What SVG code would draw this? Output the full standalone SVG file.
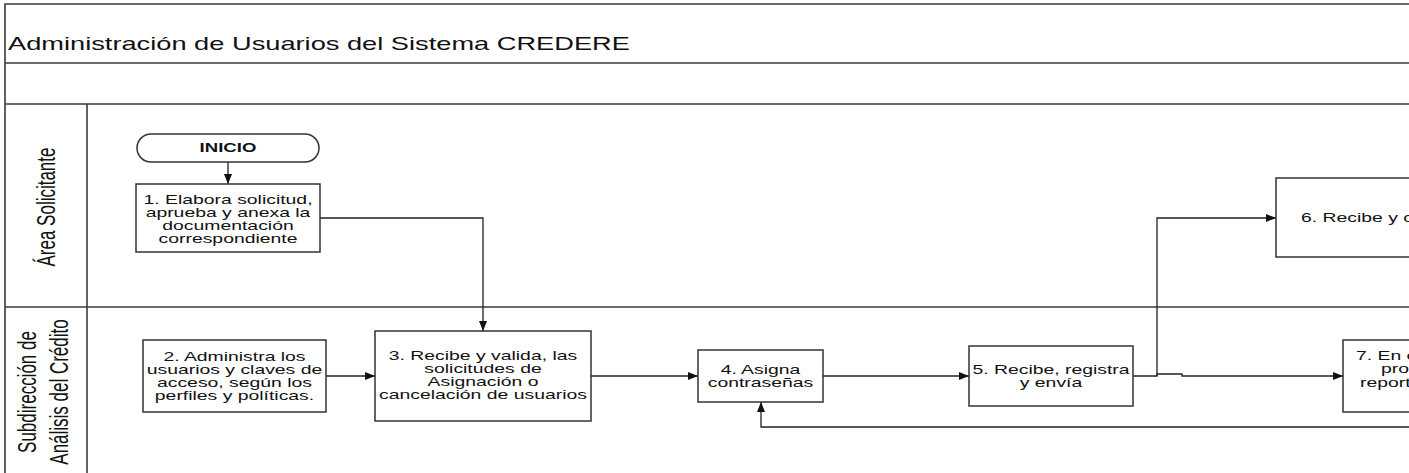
<svg xmlns="http://www.w3.org/2000/svg" width="1409" height="473" viewBox="0 0 1409 473">
<style>
.frame{fill:none;stroke:#3a3a3a;stroke-width:1.6}
.box{fill:#fff;stroke:#333;stroke-width:1.5}
.conn{fill:none;stroke:#222;stroke-width:1.3}
.t{font-family:"Liberation Sans",Arial,sans-serif;font-size:12.5px;fill:#111}
.tb{font-family:"Liberation Sans",Arial,sans-serif;font-size:12px;font-weight:bold;fill:#111}
.title{font-family:"Liberation Sans",Arial,sans-serif;font-size:17.8px;fill:#111}
.lane{font-family:"Liberation Sans",Arial,sans-serif;font-size:17px;fill:#111}
</style>
<defs>
<marker id="arr" viewBox="0 0 10 8" refX="10" refY="4" markerWidth="10" markerHeight="8" markerUnits="userSpaceOnUse" orient="auto">
<path d="M0,0 L10,4 L0,8 Z" fill="#111"/>
</marker>
</defs>
<rect width="1409" height="473" fill="#fff"/>
<g id="frame">
<path class="frame" d="M1409,4 H5 V473"/>
<line class="frame" x1="5" y1="63" x2="1409" y2="63"/>
<line class="frame" x1="5" y1="104" x2="1409" y2="104"/>
<line class="frame" x1="5" y1="307" x2="1409" y2="307"/>
<line class="frame" x1="87" y1="104" x2="87" y2="473"/>
<text class="title" transform="matrix(1.53 0 0 1 8 50)" x="0" y="0">Administración de Usuarios del Sistema CREDERE</text>
</g>
<g id="lane-area-solicitante">
<text class="lane" text-anchor="middle" transform="matrix(0 -1 1.55 0 55 207)" x="0" y="0">Área Solicitante</text>
</g>
<g id="lane-subdireccion">
<text class="lane" text-anchor="middle" transform="matrix(0 -1 1.55 0 36 392)" x="0" y="0">Subdirección de</text>
<text class="lane" text-anchor="middle" transform="matrix(0 -1 1.55 0 68 392)" x="0" y="0">Análisis del Crédito</text>
</g>
<g id="connectors">
<line class="conn" x1="228" y1="162" x2="228" y2="184" marker-end="url(#arr)"/>
<path class="conn" d="M320,218 H483 V331" marker-end="url(#arr)"/>
<line class="conn" x1="326" y1="376" x2="375" y2="376" marker-end="url(#arr)"/>
<line class="conn" x1="591" y1="376" x2="698" y2="376" marker-end="url(#arr)"/>
<line class="conn" x1="823" y1="376" x2="969" y2="376" marker-end="url(#arr)"/>
<path class="conn" d="M1133,376 H1157 V218 H1276" marker-end="url(#arr)"/>
<path class="conn" d="M1157,376 V374 H1182 V376 H1343" marker-end="url(#arr)"/>
<path class="conn" d="M1412,427 H761 V402" marker-end="url(#arr)"/>
</g>
<g id="inicio">
<rect class="box" x="137" y="134" width="182" height="28" rx="14" ry="14"/>
<text class="tb" text-anchor="middle" transform="matrix(1.55 0 0 1 228 152)" x="0" y="0">INICIO</text>
</g>
<g id="n1">
<rect class="box" x="136" y="184" width="184" height="68"/>
<text class="t" text-anchor="middle" transform="matrix(1.55 0 0 1 228 0)"><tspan x="0" y="204">1. Elabora solicitud,</tspan><tspan x="0" y="217">aprueba y anexa la</tspan><tspan x="0" y="230">documentación</tspan><tspan x="0" y="243">correspondiente</tspan></text>
</g>
<g id="n2">
<rect class="box" x="143" y="340" width="183" height="72"/>
<text class="t" text-anchor="middle" transform="matrix(1.55 0 0 1 234.5 0)"><tspan x="0" y="361">2. Administra los</tspan><tspan x="0" y="374">usuarios y claves de</tspan><tspan x="0" y="387">acceso, según los</tspan><tspan x="0" y="400">perfiles y políticas.</tspan></text>
</g>
<g id="n3">
<rect class="box" x="375" y="331" width="216" height="90"/>
<text class="t" text-anchor="middle" transform="matrix(1.55 0 0 1 483 0)"><tspan x="0" y="360">3. Recibe y valida, las</tspan><tspan x="0" y="373">solicitudes de</tspan><tspan x="0" y="386">Asignación o</tspan><tspan x="0" y="399">cancelación de usuarios</tspan></text>
</g>
<g id="n4">
<rect class="box" x="698" y="350" width="125" height="52"/>
<text class="t" text-anchor="middle" transform="matrix(1.55 0 0 1 760.5 0)"><tspan x="0" y="374">4. Asigna</tspan><tspan x="0" y="387">contraseñas</tspan></text>
</g>
<g id="n5">
<rect class="box" x="969" y="346" width="164" height="60"/>
<text class="t" text-anchor="middle" transform="matrix(1.55 0 0 1 1051 0)"><tspan x="0" y="374">5. Recibe, registra</tspan><tspan x="0" y="387">y envía</tspan></text>
</g>
<g id="n6">
<rect class="box" x="1276" y="178" width="160" height="79"/>
<text class="t" transform="matrix(1.55 0 0 1 1301 222)" x="0" y="0">6. Recibe y c</text>
</g>
<g id="n7">
<rect class="box" x="1343" y="340" width="100" height="72"/>
<text class="t" transform="matrix(1.55 0 0 1 1356 360)" x="0" y="0">7. En c</text>
<text class="t" transform="matrix(1.55 0 0 1 1381 373)" x="0" y="0">prob</text>
<text class="t" transform="matrix(1.55 0 0 1 1360 387)" x="0" y="0">report</text>
</g>
</svg>
